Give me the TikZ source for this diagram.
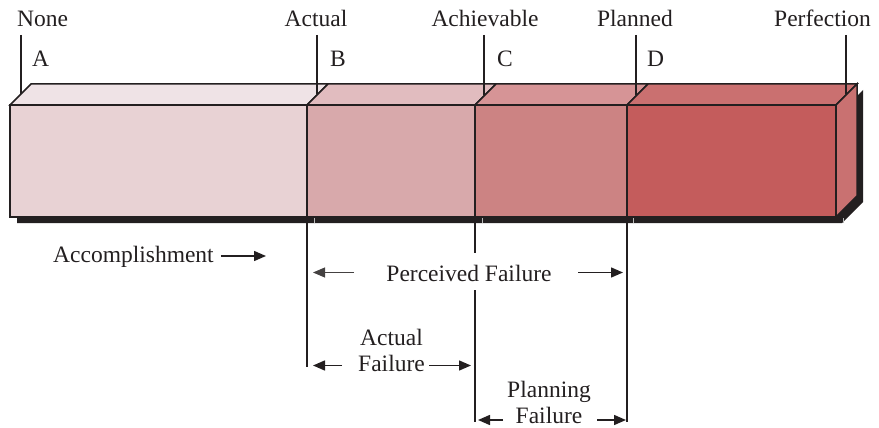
\documentclass[tikz,border=0pt]{standalone}
\usepackage{fontspec}
\setmainfont{Liberation Serif}
\usetikzlibrary{arrows.meta}
\definecolor{ink}{HTML}{231F20}
\definecolor{frontA}{HTML}{E8D2D4}
\definecolor{topA}{HTML}{EFE3E6}
\definecolor{frontB}{HTML}{D8A9AB}
\definecolor{topB}{HTML}{E1BCBF}
\definecolor{frontC}{HTML}{CC8383}
\definecolor{topC}{HTML}{D69496}
\definecolor{frontD}{HTML}{C45C5C}
\definecolor{topD}{HTML}{CA7070}
\definecolor{sideD}{HTML}{C97171}
\tikzset{
  face/.style={draw=ink, line width=1.5pt, line join=miter},
  tick/.style={draw=ink, line width=1.8pt},
  divider/.style={draw=ink, line width=1.8pt},
  arr/.style={draw=ink, line width=1.5pt, -{Triangle[length=12pt,width=10pt]}},
  thinarr/.style={draw=ink!85, line width=1pt, -{Triangle[length=12pt,width=10pt]}},
  lbl/.style={inner sep=0pt, text=ink},
}
\begin{document}
\begin{tikzpicture}[x=1pt,y=-1pt, font=\fontsize{23.5}{26}\selectfont]
\useasboundingbox (0,0) rectangle (879,428);

% shadow
\fill[ink] (17,111) -- (842,111) -- (863,90) -- (863,202) -- (842,223) -- (17,223) -- cycle;
\foreach \sx in {314,482,633,843} \draw[gray!55, line width=0.6pt] (\sx,218) -- (\sx,223);

% segments: top faces
\path[face, fill=topA] (10,105) -- (31,84) -- (328,84) -- (307,105) -- cycle;
\path[face, fill=topB] (307,105) -- (328,84) -- (496,84) -- (475,105) -- cycle;
\path[face, fill=topC] (475,105) -- (496,84) -- (648,84) -- (627,105) -- cycle;
\path[face, fill=topD] (627,105) -- (648,84) -- (857,84) -- (836,105) -- cycle;
% side face
\path[face, fill=sideD] (836,105) -- (857,84) -- (857,196) -- (836,217) -- cycle;
% front faces
\path[face, fill=frontA] (10,105) rectangle (307,217);
\path[face, fill=frontB] (307,105) rectangle (475,217);
\path[face, fill=frontC] (475,105) rectangle (627,217);
\path[face, fill=frontD] (627,105) rectangle (836,217);

% top labels
\node[lbl, anchor=base west] (none) at (17,27) {None};
\node[lbl, anchor=base] (actual) at (316,27) {Actual};
\node[lbl, anchor=base] (achievable) at (485,27) {Achievable};
\node[lbl, anchor=base] (planned) at (635,27) {Planned};
\node[lbl, anchor=base east] (perfection) at (871,27) {Perfection};

\node[lbl, anchor=base west] (la) at (32,66.5) {A};
\node[lbl, anchor=base west] (lb) at (330,66.5) {B};
\node[lbl, anchor=base west] (lc) at (497,66.5) {C};
\node[lbl, anchor=base west] (ld) at (647,66.5) {D};

% tick lines
\coordinate (tA0) at (21,35);    \coordinate (tA1) at (21,94.5);
\coordinate (tB0) at (317,35);   \coordinate (tB1) at (317,94.5);
\coordinate (tC0) at (484,35);   \coordinate (tC1) at (484,95);
\coordinate (tD0) at (636,35);   \coordinate (tD1) at (636,95);
\coordinate (tE0) at (846,35);   \coordinate (tE1) at (846,94.5);
\draw[tick] (tA0) -- (tA1);
\draw[tick] (tB0) -- (tB1);
\draw[tick] (tC0) -- (tC1);
\draw[tick] (tD0) -- (tD1);
\draw[tick] (tE0) -- (tE1);

% dividers below
\coordinate (dB0) at (307,217); \coordinate (dB1) at (307,367);
\coordinate (dC0) at (475,217); \coordinate (dC1) at (475,253);
\coordinate (dC2) at (475,290); \coordinate (dC3) at (475,422);
\coordinate (dD0) at (627,217); \coordinate (dD1) at (627,422);
\draw[divider] (dB0) -- (dB1);
\draw[divider] (dC0) -- (dC1);
\draw[divider] (dC2) -- (dC3);
\draw[divider] (dD0) -- (dD1);

% Accomplishment
\node[lbl, anchor=base west] (acc) at (53,262) {Accomplishment};
\coordinate (accT) at (266,256);
\draw[arr] (acc.east |- accT) ++(7,0) -- (accT);

% Perceived Failure
\node[lbl, anchor=base] (perc) at (469,281) {Perceived Failure};
\coordinate (percL) at (313,272.5);
\coordinate (percR) at (623,272.5);
\coordinate (percLt) at (354,272.5);
\coordinate (percRt) at (578,272.5);
\draw[thinarr] (percLt) -- (percL);
\draw[arr] (percRt) -- (percR);

% Actual Failure
\node[lbl, anchor=north, align=center] (actf) at (391.5,329) {Actual\\Failure};
\coordinate (actL) at (313,365.5);
\coordinate (actR) at (471,365.5);
\coordinate (actLt) at (342,365.5);
\coordinate (actRt) at (429,365.5);
\draw[arr] (actLt) -- (actL);
\draw[arr] (actRt) -- (actR);

% Planning Failure
\node[lbl, anchor=north, align=center] (planf) at (549,381) {Planning\\Failure};
\coordinate (plL) at (478,420);
\coordinate (plR) at (626,420);
\coordinate (plLt) at (503,420);
\coordinate (plRt) at (597,420);
\draw[arr] (plLt) -- (plL);
\draw[arr] (plRt) -- (plR);
\end{tikzpicture}
\end{document}
